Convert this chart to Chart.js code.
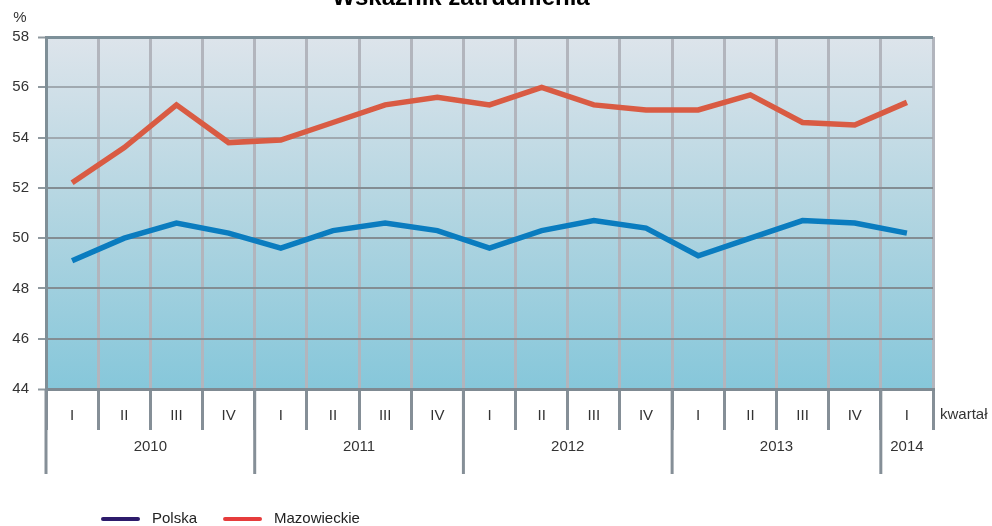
<!DOCTYPE html>
<html>
<head>
<meta charset="utf-8">
<script src="https://cdn.jsdelivr.net/npm/chart.js@4.4.1/dist/chart.umd.min.js"></script>
<style>
html,body{margin:0;padding:0;background:#fff}
#wrap{width:992px;height:526px;position:relative}
</style>
</head>
<body>
<div id="wrap"><canvas id="chart"></canvas></div>
<script>
// dane
var quarters = ['I','II','III','IV','I','II','III','IV','I','II','III','IV','I','II','III','IV','I'];
var years = ['2010','2011','2012','2013','2014'];
var yearSpans = [4,4,4,4,1];
var polska = [49.1,50.0,50.6,50.2,49.6,50.3,50.6,50.3,49.6,50.3,50.7,50.4,49.3,50.0,50.7,50.6,50.2];
var mazowieckie = [52.2,53.6,55.3,53.8,53.9,54.6,55.3,55.6,55.3,56.0,55.3,55.1,55.1,55.7,54.6,54.5,55.4];
var seriesNames = ['Polska','Mazowieckie'];
var lineColors = ['#0a7cbf','#d95b43'];
var legendColors = ['#2d1b6b','#e63c3c'];
var yMin = 44, yMax = 58, yStep = 2;

var FONT = 'Arial, "Liberation Sans", sans-serif';
var FSIZE = 15;

// tło wykresu (gradient)
var bgPlugin = {
	id: 'bgPlugin',
	beforeDraw: function(chart){
		var ctx = chart.ctx, a = chart.chartArea;
		var g = ctx.createLinearGradient(0, a.top, 0, a.bottom);
		g.addColorStop(0, '#dde4eb');
		g.addColorStop(0.5, '#b2d5e1');
		g.addColorStop(1, '#86c7da');
		ctx.save();
		ctx.fillStyle = g;
		ctx.fillRect(a.left, a.top, a.right - a.left, a.bottom - a.top);
		ctx.restore();
	}
};

// tytuł, lata, legenda
var extrasPlugin = {
	id: 'extrasPlugin',
	afterDraw: function(chart){
		var ctx = chart.ctx, a = chart.chartArea;
		var xs = chart.scales.x;
		var half = (xs.getPixelForValue(1) - xs.getPixelForValue(0)) / 2;
		ctx.save();

		// tytuł (ucięty u góry)
		ctx.fillStyle = '#000';
		ctx.font = 'bold 24px ' + FONT;
		ctx.textAlign = 'center';
		ctx.textBaseline = 'alphabetic';
		ctx.fillText('Wskaźnik zatrudnienia', 461, 5);

		// %
		ctx.font = FSIZE + 'px ' + FONT;
		ctx.fillStyle = '#333';
		ctx.textBaseline = 'middle';
		ctx.fillText('%', a.left - 26, a.top - 19);

		// kwartał
		ctx.textAlign = 'left';
		ctx.fillText('kwartał', a.right + 7, a.bottom + 26);

		// lata
		var idx = 0;
		ctx.strokeStyle = '#858f97';
		ctx.lineWidth = 3;
		ctx.textAlign = 'center';
		for(var i=0;i<years.length;i++){
			var x0 = xs.getPixelForValue(idx) - half;
			var x1 = xs.getPixelForValue(idx + yearSpans[i] - 1) + half;
			ctx.beginPath();
			ctx.moveTo(x0, a.bottom);
			ctx.lineTo(x0, a.bottom + 85);
			ctx.stroke();
			ctx.fillText(years[i], (x0 + x1) / 2, a.bottom + 58);
			idx += yearSpans[i];
		}

		// legenda
		var lx = a.left + 57, ly = 519;
		ctx.textAlign = 'left';
		ctx.lineCap = 'round';
		for(var j=0;j<seriesNames.length;j++){
			ctx.strokeStyle = legendColors[j];
			ctx.lineWidth = 4;
			ctx.beginPath();
			ctx.moveTo(lx, ly);
			ctx.lineTo(lx + 35, ly);
			ctx.stroke();
			ctx.fillStyle = '#222';
			ctx.fillText(seriesNames[j], lx + 49, ly);
			lx += 49 + ctx.measureText(seriesNames[j]).width + 28;
		}
		ctx.restore();
	}
};

var ctx = document.getElementById('chart').getContext('2d');
var myChart = new Chart(ctx, {
	type: 'line',
	data: {
		labels: quarters,
		datasets: [{
			label: seriesNames[0],
			data: polska,
			borderColor: lineColors[0],
			borderWidth: 5.5,
			pointRadius: 0,
			tension: 0
		},{
			label: seriesNames[1],
			data: mazowieckie,
			borderColor: lineColors[1],
			borderWidth: 5.5,
			pointRadius: 0,
			tension: 0
		}]
	},
	options: {
		responsive: true,
		maintainAspectRatio: false,
		animation: false,
		devicePixelRatio: 1,
		layout: { padding: { top: 37, right: 59, left: 0, bottom: 0 } },
		plugins: {
			legend: { display: false },
			title: { display: false },
			tooltip: { enabled: false }
		},
		scales: {
			x: {
				type: 'category',
				offset: true,
				grid: {
					offset: true,
					color: '#b2b5bd',
					lineWidth: 3,
					tickLength: 41,
					tickColor: '#858f97',
					tickWidth: 3
				},
				border: { display: true, color: '#7f8a92', width: 3 },
				ticks: {
					color: '#333',
					font: { family: FONT, size: FSIZE },
					padding: -23,
					maxRotation: 0,
					autoSkip: false
				},
				afterFit: function(s){ s.height = 137; }
			},
			y: {
				min: yMin,
				max: yMax,
				ticks: {
					stepSize: yStep,
					color: '#333',
					font: { family: FONT, size: FSIZE },
					padding: 9
				},
				grid: {
					color: function(c){
						if(c.tick && c.tick.value === yMax) return '#7d9099';
						if(c.tick && c.tick.value >= 54) return '#a0a9b0';
						return '#838d93';
					},
					lineWidth: function(c){
						return (c.tick && (c.tick.value === yMax || c.tick.value === yMin)) ? 3 : 2;
					},
					tickLength: 8,
					tickColor: '#8f999f',
					tickWidth: 2
				},
				border: { display: true, color: '#7f8f97', width: 3 },
				afterFit: function(s){ s.width = 46; }
			}
		}
	},
	plugins: [bgPlugin, extrasPlugin]
});
</script>
</body>
</html>
